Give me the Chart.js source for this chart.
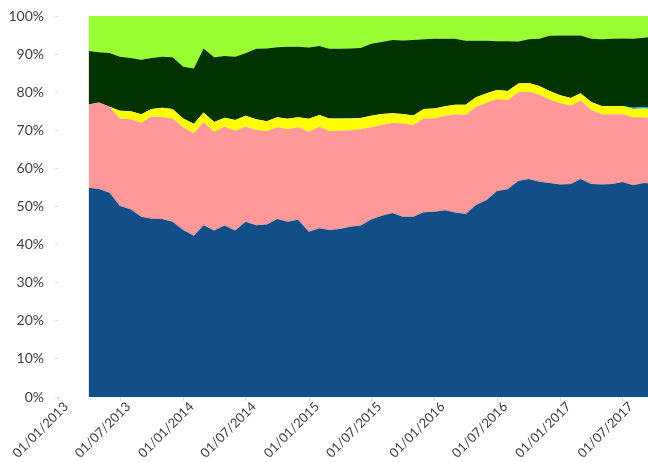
<!DOCTYPE html>
<html>
<head>
<meta charset="utf-8">
<script src="https://cdn.jsdelivr.net/npm/chart.js@4/dist/chart.umd.min.js"></script>
<style>
    html, body { margin: 0; padding: 0; background: #fff; }
    #wrap { width: 648px; height: 462px; }
</style>
</head>
<body>
<div id="wrap"><canvas id="chart"></canvas></div>
<script>
// month of each reading (plotted at month end)
const months = [
    '2013-03', '2013-04', '2013-05', '2013-06', '2013-07', '2013-08', '2013-09', '2013-10', '2013-11', '2013-12',
    '2014-01', '2014-02', '2014-03', '2014-04', '2014-05', '2014-06', '2014-07', '2014-08', '2014-09', '2014-10',
    '2014-11', '2014-12', '2015-01', '2015-02', '2015-03', '2015-04', '2015-05', '2015-06', '2015-07', '2015-08',
    '2015-09', '2015-10', '2015-11', '2015-12', '2016-01', '2016-02', '2016-03', '2016-04', '2016-05', '2016-06',
    '2016-07', '2016-08', '2016-09', '2016-10', '2016-11', '2016-12', '2017-01', '2017-02', '2017-03', '2017-04',
    '2017-05', '2017-06', '2017-07', '2017-08', '2017-09'
];

const tickLabels = [
    '01/01/2013', '01/07/2013', '01/01/2014', '01/07/2014', '01/01/2015',
    '01/07/2015', '01/01/2016', '01/07/2016', '01/01/2017', '01/07/2017'
];

// shares in %, bottom of the stack first
const blueSeries = [
    54.9, 54.6, 53.6, 50.1, 49.3, 47.3, 46.8, 46.7, 46.0, 43.8,
    42.3, 45.1, 43.7, 45.0, 43.7, 46.0, 45.1, 45.3, 46.7, 46.0,
    46.5, 43.4, 44.3, 43.8, 44.1, 44.7, 45.0, 46.6, 47.6, 48.3,
    47.3, 47.3, 48.5, 48.6, 49.0, 48.4, 48.0, 50.4, 51.7, 54.1,
    54.5, 56.7, 57.2, 56.5, 56.2, 55.8, 55.9, 57.2, 55.9, 55.8,
    55.9, 56.4, 55.6, 56.2, 55.9
];
const pinkSeries = [
    21.9, 22.7, 22.6, 22.9, 23.6, 24.7, 26.8, 26.8, 27.1, 27.0,
    26.9, 27.0, 25.9, 25.9, 26.2, 24.9, 25.0, 24.5, 24.1, 24.3,
    24.3, 26.2, 26.6, 26.0, 25.8, 25.3, 25.3, 24.2, 23.8, 23.7,
    24.5, 24.1, 24.6, 24.5, 24.8, 25.8, 26.1, 25.8, 25.5, 24.1,
    23.4, 23.3, 22.9, 22.9, 21.9, 21.3, 20.6, 20.6, 19.4, 18.4,
    18.3, 17.8, 17.8, 17.2, 17.3
];
const yellowSeries = [
    0, 0, 0, 2.1, 2.1, 2.2, 2.0, 2.4, 2.5, 2.3,
    2.5, 2.6, 2.6, 2.4, 2.8, 2.9, 2.8, 2.6, 2.6, 2.7,
    2.6, 3.4, 3.1, 3.3, 3.2, 3.1, 2.9, 3.0, 2.9, 2.5,
    2.5, 2.5, 2.5, 2.6, 2.5, 2.5, 2.6, 2.5, 2.5, 2.4,
    2.4, 2.3, 2.3, 2.2, 2.2, 2.1, 2.0, 1.9, 2.1, 2.2,
    2.2, 2.2, 2.2, 2.3, 2.4
];
const cyanSeries = [
    0, 0, 0, 0, 0, 0, 0, 0, 0, 0,
    0, 0, 0, 0, 0, 0, 0, 0, 0, 0,
    0, 0, 0, 0, 0, 0, 0, 0, 0, 0,
    0, 0, 0, 0, 0, 0, 0, 0, 0, 0,
    0, 0, 0, 0, 0, 0, 0, 0, 0, 0,
    0, 0, 0.3, 0.4, 0.5
];
const darkGreenSeries = [
    14.0, 13.2, 14.1, 14.2, 14.0, 14.3, 13.4, 13.4, 13.6, 13.6,
    14.5, 16.8, 17.0, 16.2, 16.6, 16.4, 18.5, 19.1, 18.4, 18.9,
    18.5, 18.7, 18.1, 18.3, 18.3, 18.4, 18.4, 18.9, 18.9, 19.2,
    19.3, 19.8, 18.3, 18.3, 17.7, 17.3, 16.8, 14.8, 13.8, 12.8,
    13.1, 11.0, 11.5, 12.4, 14.5, 15.7, 16.4, 15.2, 16.6, 17.5,
    17.6, 17.7, 18.1, 18.2, 18.5
];
const limeSeries = [
    9.2, 9.5, 9.7, 10.7, 11.0, 11.5, 11.0, 10.7, 10.8, 13.3,
    13.8, 8.5, 10.8, 10.5, 10.7, 9.8, 8.6, 8.5, 8.2, 8.1,
    8.1, 8.3, 7.9, 8.6, 8.6, 8.5, 8.4, 7.3, 6.8, 6.3,
    6.4, 6.3, 6.1, 6.0, 6.0, 6.0, 6.5, 6.5, 6.5, 6.6,
    6.6, 6.7, 6.1, 6.0, 5.2, 5.1, 5.1, 5.1, 6.0, 6.1,
    6.0, 5.9, 6.0, 5.7, 5.4
];

const DAY = 86400000;
const ORIGIN = Date.UTC(2013, 0, 1);

function monthEndDay(ym) {
    const [y, m] = ym.split('-').map(Number);
    return (Date.UTC(y, m, 0) - ORIGIN) / DAY;
}

function labelDay(label) {
    const [d, m, y] = label.split('/').map(Number);
    return (Date.UTC(y, m - 1, d) - ORIGIN) / DAY;
}

const xs = months.map(monthEndDay);

function points(series) {
    return series.map((v, i) => ({ x: xs[i], y: v }));
}

function area(data, color, first) {
    return {
        data: points(data),
        backgroundColor: color,
        borderColor: 'rgba(0,0,0,0)',
        borderWidth: 0,
        pointRadius: 0,
        tension: 0,
        fill: first ? 'origin' : '-1'
    };
}

const ctx = document.getElementById('chart').getContext('2d');
new Chart(ctx, {
    type: 'line',
    data: {
        datasets: [
            area(blueSeries, '#124F89', true),
            area(pinkSeries, '#FF9999'),
            area(yellowSeries, '#FFFF00'),
            area(cyanSeries, '#00B0F0'),
            area(darkGreenSeries, '#003300'),
            area(limeSeries, '#99FF33')
        ]
    },
    options: {
        responsive: true,
        maintainAspectRatio: false,
        animation: false,
        layout: { padding: { top: 16, right: 0, left: 0, bottom: 0 } },
        plugins: {
            legend: { display: false },
            tooltip: { enabled: false }
        },
        scales: {
            x: {
                type: 'linear',
                min: 0,
                max: 1715,
                afterBuildTicks: scale => {
                    scale.ticks = tickLabels.map(l => ({ value: labelDay(l) }));
                },
                afterFit: scale => { scale.height = 65; },
                border: { display: false },
                grid: { drawOnChartArea: false, drawTicks: true, tickLength: 4, color: '#d9d9d9' },
                ticks: {
                    autoSkip: false,
                    minRotation: 45,
                    maxRotation: 45,
                    labelOffset: 8,
                    padding: -2,
                    color: '#404040',
                    font: { family: 'Lato', size: 13 },
                    callback: (value, index) => tickLabels[index]
                }
            },
            y: {
                stacked: true,
                min: 0,
                max: 100,
                afterFit: scale => {
                    scale.width = 58;
                    scale.paddingTop = 0;
                    scale.paddingBottom = 0;
                },
                border: { display: false },
                grid: { drawOnChartArea: false, drawTicks: true, tickLength: 3, color: '#d9d9d9' },
                ticks: {
                    stepSize: 10,
                    padding: 11,
                    color: '#404040',
                    font: { family: 'Lato', size: 14 },
                    callback: v => v + '%'
                }
            }
        }
    }
});
</script>
</body>
</html>
